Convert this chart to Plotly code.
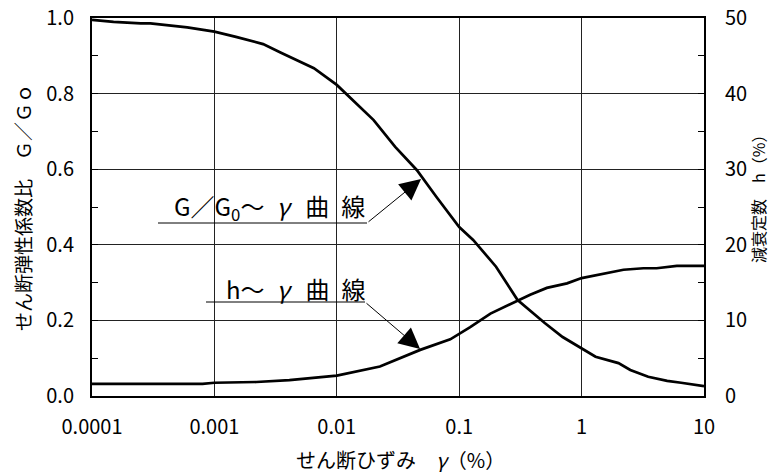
import plotly.graph_objects as go
import math

# G/G0 ~ gamma curve
gamma_g = [0.0001, 0.00015, 0.00025, 0.0003, 0.0006, 0.001, 0.0015, 0.0025, 0.0035, 0.005,
           0.0065, 0.01, 0.02, 0.03, 0.045, 0.065, 0.1, 0.13, 0.2, 0.3, 0.5, 0.7, 1.0, 1.3,
           2.0, 2.5, 3.5, 5.0, 6.5, 10.0]
g_ratio = [0.995, 0.99, 0.986, 0.986, 0.975, 0.964, 0.95, 0.931, 0.908, 0.884,
           0.867, 0.823, 0.73, 0.659, 0.598, 0.527, 0.447, 0.413, 0.342, 0.254, 0.193, 0.156, 0.127, 0.104,
           0.087, 0.069, 0.051, 0.04, 0.035, 0.026]

# h ~ gamma curve (%)
gamma_h = [0.0001, 0.0008, 0.001, 0.0022, 0.0041, 0.01, 0.0225, 0.048, 0.0845, 0.123, 0.18,
           0.26, 0.38, 0.52, 0.76, 1.0, 1.33, 2.2, 3.2, 4.1, 6.0, 10.0]
h_damp = [1.6, 1.6, 1.75, 1.85, 2.1, 2.7, 3.9, 6.1, 7.5, 9.1, 10.9,
          12.1, 13.4, 14.3, 14.9, 15.6, 16.0, 16.7, 16.9, 16.9, 17.2, 17.2]

x_ticks = [0.0001, 0.001, 0.01, 0.1, 1, 10]
x_ticktext = ["0.0001", "0.001", "0.01", "0.1", "1", "10"]

FONT = "Noto Sans CJK JP"

# plot-area geometry in pixels (used only to place the callout decorations)
PL, PR, PT, PB = 92, 704, 18, 396
def px(xp):
    return (xp - PL) / (PR - PL)
def py(yp):
    return (PB - yp) / (PB - PT)

fig = go.Figure()
fig.add_trace(go.Scatter(x=gamma_g, y=g_ratio, mode="lines",
                         line=dict(color="black", width=2.7), yaxis="y", showlegend=False))
fig.add_trace(go.Scatter(x=gamma_h, y=h_damp, mode="lines",
                         line=dict(color="black", width=2.7), yaxis="y2", showlegend=False))

fig.update_layout(
    width=771, height=473,
    margin=dict(l=PL, r=771 - PR, t=PT, b=473 - PB, autoexpand=False),
    paper_bgcolor="white", plot_bgcolor="white",
    font=dict(family=FONT, size=20, color="black"),
    xaxis=dict(type="log", range=[-4, 1], tickvals=x_ticks, ticktext=x_ticktext,
               showgrid=True, gridcolor="#222", gridwidth=1,
               showline=True, linecolor="black", linewidth=2, mirror=True,
               ticks="", ticklabelstandoff=12, zeroline=False, automargin=False),
    yaxis=dict(range=[0, 1], dtick=0.2, tickformat=".1f",
               showgrid=True, gridcolor="#222", gridwidth=1,
               showline=True, linecolor="black", linewidth=2,
               ticks="inside", ticklen=6, tickcolor="black",
               minor=dict(dtick=0.1, ticks="inside", ticklen=6, tickcolor="black", showgrid=False),
               ticklabelstandoff=12, zeroline=False, automargin=False),
    yaxis2=dict(range=[0, 50], dtick=10, overlaying="y", side="right",
                showgrid=False, showline=True, linecolor="black", linewidth=2,
                ticks="inside", ticklen=6, tickcolor="black",
                minor=dict(dtick=5, ticks="inside", ticklen=6, tickcolor="black"),
                ticklabelstandoff=15, zeroline=False, automargin=False),
)

# axis titles
fig.add_annotation(text="せん断弾性係数比　Ｇ／Ｇｏ", xref="paper", yref="paper",
                   x=px(22), y=py(208), xanchor="center", yanchor="middle",
                   textangle=-90, showarrow=False, font=dict(size=19))
fig.add_annotation(text="減衰定数　h（%）", xref="paper", yref="paper",
                   x=px(758), y=py(195), xanchor="center", yanchor="middle",
                   textangle=-90, showarrow=False, font=dict(size=16), borderpad=0)
fig.add_annotation(text="せん断ひずみ　<i>γ</i>（%）", xref="paper", yref="paper",
                   x=px(400), y=py(459), xanchor="center", yanchor="middle",
                   showarrow=False, font=dict(size=20))

# curve labels
fig.add_annotation(text="G／G<sub>0</sub>～\u2002<i>γ</i>\u2002\u2006曲\u2002線", xref="paper", yref="paper",
                   x=px(172), y=py(207), xanchor="left", yanchor="middle",
                   showarrow=False, font=dict(size=24))
fig.add_annotation(text="h～\u2002<i>γ</i>\u2002\u2006曲\u2002線", xref="paper", yref="paper",
                   x=px(224), y=py(288), xanchor="left", yanchor="middle",
                   showarrow=False, font=dict(size=24))

# underlines
fig.add_shape(type="line", xref="paper", yref="paper",
              x0=px(158), x1=px(367), y0=py(223), y1=py(223),
              line=dict(color="black", width=1))
fig.add_shape(type="line", xref="paper", yref="paper",
              x0=px(206), x1=px(365), y0=py(302), y1=py(302),
              line=dict(color="black", width=1))

# arrows (tip on each curve, tail at the end of the underline)
fig.add_annotation(x=math.log10(0.0488), y=0.574, ax=math.log10(0.01766), ay=py(223),
                   xref="x", yref="y", axref="x", ayref="y", text="", showarrow=True,
                   arrowhead=2, arrowsize=4.2, arrowwidth=1, arrowcolor="black")
fig.add_annotation(x=math.log10(0.0479), y=0.1243, ax=math.log10(0.0170), ay=py(302),
                   xref="x", yref="y", axref="x", ayref="y", text="", showarrow=True,
                   arrowhead=2, arrowsize=4.2, arrowwidth=1, arrowcolor="black")

fig.write_html("out.html", config={"displayModeBar": False},
               post_script="document.body.style.margin='0';document.body.style.overflow='hidden';")
